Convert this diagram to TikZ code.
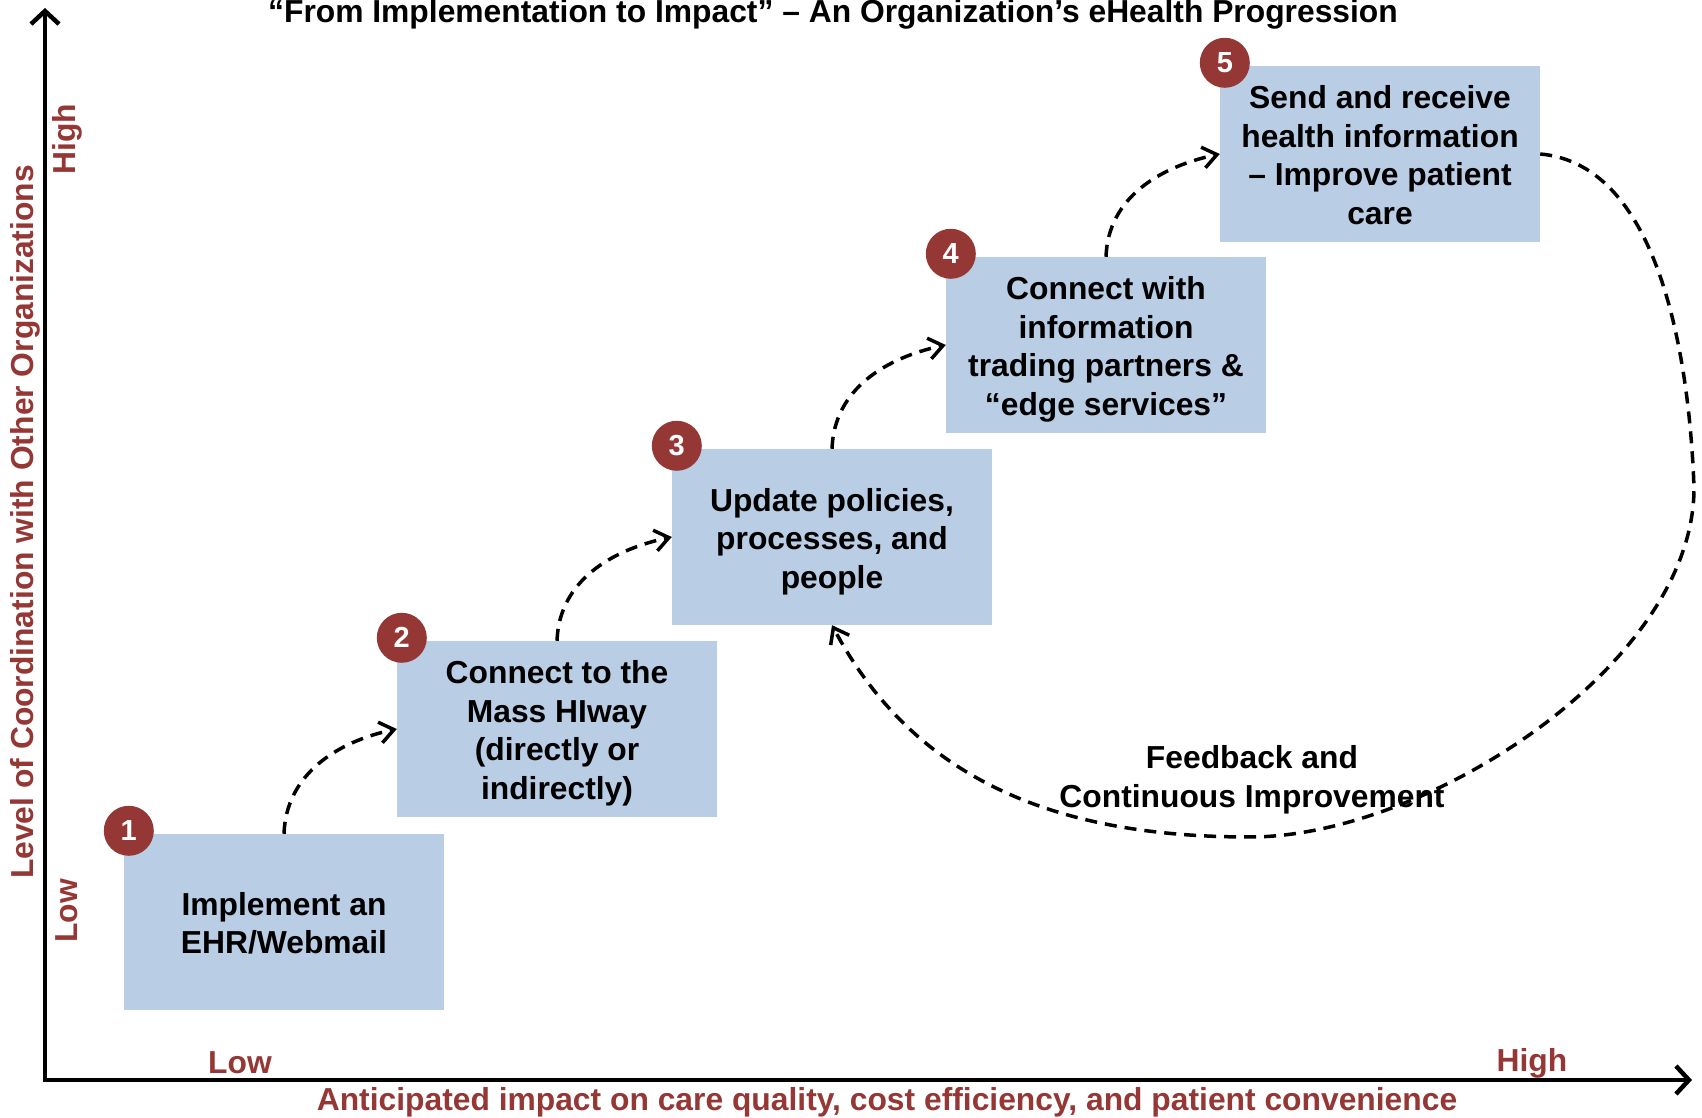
\documentclass[tikz,border=0pt]{standalone}
\usepackage{fontspec}
\setmainfont{Liberation Sans}
\usetikzlibrary{arrows.meta,calc}
\definecolor{darkred}{HTML}{953735}
\definecolor{boxblue}{HTML}{B9CDE5}
\tikzset{
 stepbox/.style={fill=boxblue, minimum width=320pt, minimum height=176pt, inner sep=0pt},
 steptext/.style={inner sep=0pt, align=center, yshift=-4.5pt,
   font=\fontsize{31.8}{38.5}\selectfont\bfseries,
   execute at begin node={\rule[-7pt]{0pt}{37pt}},
   execute at end node={\rule[-7pt]{0pt}{7pt}}},
 badge/.style={circle, fill=darkred, minimum size=50pt, inner sep=0pt, text=white, font=\fontsize{29}{29}\selectfont\bfseries},
 flow/.style={dash pattern=on 12pt off 8pt, line width=3.5pt, -{Straight Barb[length=14pt,width=21pt]}},
 axisline/.style={line width=4.5pt, {Straight Barb[length=13pt,width=28pt]}-{Straight Barb[length=13pt,width=28pt]}},
 axlabel/.style={text=darkred, inner sep=0pt, font=\fontsize{31.8}{36}\selectfont\bfseries},
 plain/.style={inner sep=0pt, align=center, font=\fontsize{31.8}{39}\selectfont\bfseries},
}
\begin{document}
\begin{tikzpicture}[x=1pt,y=1pt]
\useasboundingbox (0,0) rectangle (1702,1118);
% axes
\coordinate (origin) at (45,38);
\coordinate (ytip) at (45,1110);
\coordinate (xtip) at (1692,38);
\draw[axisline] (ytip) -- (origin) -- (xtip);
% title
\node[plain, anchor=base] (title) at (833,1095) {“From Implementation to Impact” – An Organization’s eHealth Progression};
% axis labels
\node[axlabel, rotate=90] (ylab) at (25,596) {Level of Coordination with Other Organizations};
\node[axlabel] (xlab) at (887,16) {Anticipated impact on care quality, cost efficiency, and patient convenience};
\node[axlabel] (xlow) at (240,55) {Low};
\node[axlabel] (xhigh) at (1532,55) {High};
\node[axlabel, rotate=90] (yhigh) at (67,979) {High};
\node[axlabel, rotate=90] (ylow) at (67,207) {Low};
% boxes
\node[stepbox] (b1) at (284,196) {};
\node[stepbox] (b2) at (557,389) {};
\node[stepbox] (b3) at (832,581) {};
\node[stepbox] (b4) at (1106,773) {};
\node[stepbox] (b5) at (1380,964) {};
\node[steptext] (t1) at (b1.center) {Implement an\\EHR/Webmail};
\node[steptext] (t2) at (b2.center) {Connect to the\\Mass HIway\\(directly or\\indirectly)};
\node[steptext] (t3) at (b3.center) {Update policies,\\processes, and\\people};
\node[steptext] (t4) at (b4.center) {Connect with\\information\\trading partners \&\\“edge services”};
\node[steptext] (t5) at (b5.center) {Send and receive\\health information\\– Improve patient\\care};
% badges
\node[badge] (n1) at ($(b1.north west)+(5,3)$) {1};
\node[badge] (n2) at ($(b2.north west)+(5,3)$) {2};
\node[badge] (n3) at ($(b3.north west)+(5,3)$) {3};
\node[badge] (n4) at ($(b4.north west)+(5,3)$) {4};
\node[badge] (n5) at ($(b5.north west)+(5,3)$) {5};
% progression connectors
\draw[flow] (b1.north) to[out=88,in=192] (b2.west);
\draw[flow] (b2.north) to[out=88,in=192] (b3.west);
\draw[flow] (b3.north) to[out=88,in=192] (b4.west);
\draw[flow] (b4.north) to[out=88,in=192] (b5.west);
% feedback loop
\coordinate (fbR) at (1694,630);
\coordinate (fbB) at (1250,281);
\draw[flow] (b5.east) to[out=-5,in=92,looseness=0.85] (fbR) to[out=-90,in=0,looseness=0.8] (fbB) to[out=180,in=-62] (b3.south);
\node[plain] (fb) at (1252,338) {Feedback and\\Continuous Improvement};
\end{tikzpicture}
\end{document}
